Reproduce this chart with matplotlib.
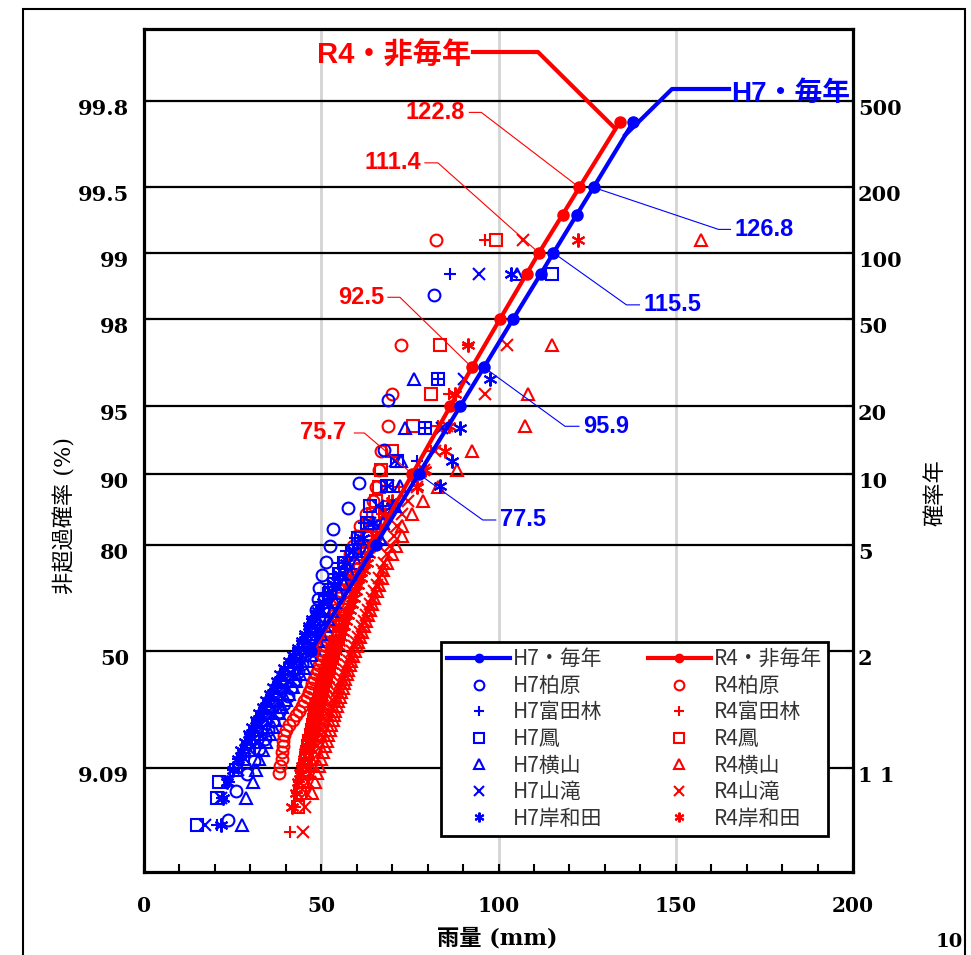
import numpy as np
import matplotlib
matplotlib.use("Agg")
import matplotlib.pyplot as plt
from matplotlib.lines import Line2D
from matplotlib.patches import Rectangle
from matplotlib.transforms import blended_transform_factory, offset_copy, IdentityTransform

plt.rcParams['font.family'] = ['DejaVu Sans', 'Noto Sans CJK JP']

# ---------------- data ----------------
prob_ticks = [9.09, 50, 80, 90, 95, 98, 99, 99.5, 99.8]          # non-exceedance (%)
prob_tick_labels = ['9.09', '50', '80', '90', '95', '98', '99', '99.5', '99.8']
period_tick_labels = ['1 1', '2', '5', '10', '20', '50', '100', '200', '500']
x_ticks = [0, 50, 100, 150, 200]

station_names = ['柏原', '富田林', '鳳', '横山', '山滝', '岸和田']

# fitted curves (return period -> rainfall)
line_T = [2, 5, 10, 20, 30, 50, 80, 100, 150, 200, 400]
h7_line = [47.0, 65.4, 77.5, 89.2, 95.9, 104.2, 111.9, 115.5, 122.1, 126.8, 138.0]
r4_line = [47.8, 64.6, 75.7, 86.4, 92.5, 100.5, 107.9, 111.4, 118.1, 122.8, 134.2]

# record lengths (for plotting positions of the sorted samples)
h7_years = [32, 40, 40, 40, 40, 40]
r4_years = [57, 57, 57, 57, 57, 57]

# H7 (annual maxima) sorted samples, mm
h7_kashiwara = [23.7, 26.0, 29.0, 31.0, 32.5, 34.0, 35.0, 36.5, 38.0, 39.5, 40.5, 41.5,
                42.5, 43.5, 44.5, 45.5, 46.3, 47.0, 47.5, 48.0, 48.5, 49.0, 49.3, 50.1,
                51.3, 52.4, 53.2, 57.5, 60.6, 67.6, 68.7, 81.7]
h7_tondabayashi = [20.5, 22.0, 24.0, 25.0, 26.5, 28.0, 29.0, 30.0, 31.0, 32.0, 33.0, 34.0,
                   35.0, 36.5, 37.5, 38.5, 39.5, 40.5, 41.5, 42.5, 43.5, 44.5, 45.5, 46.5,
                   47.5, 48.5, 49.5, 50.5, 52.0, 53.5, 55.0, 57.0, 59.5, 62.0, 67.3, 68.5,
                   76.9, 79.2, 82.8, 86.2]
h7_otori = [15.0, 20.6, 21.2, 26.0, 28.0, 29.5, 30.8, 32.0, 33.0, 34.0, 35.2, 36.0,
            37.2, 38.0, 39.0, 40.2, 41.0, 42.2, 43.0, 44.0, 45.2, 46.5, 47.0, 48.0,
            49.5, 50.5, 51.0, 52.5, 53.5, 55.0, 56.5, 59.4, 60.5, 63.0, 63.7, 68.5,
            71.5, 79.2, 82.8, 115.2]
h7_yokoyama = [27.6, 28.8, 30.7, 31.5, 32.5, 33.5, 34.5, 35.5, 36.5, 37.0, 38.0, 39.0,
               40.0, 41.0, 42.0, 43.0, 44.0, 45.0, 46.0, 47.0, 48.0, 49.0, 50.0, 51.0,
               52.0, 53.0, 54.0, 55.0, 56.5, 58.0, 60.0, 63.0, 66.5, 67.3, 70.7, 72.1,
               72.4, 73.5, 76.3, 105.1]
h7_yamataki = [17.2, 21.7, 23.4, 26.5, 28.5, 30.0, 31.5, 32.5, 33.5, 34.5, 35.5, 36.5,
               37.5, 38.5, 39.5, 40.5, 41.5, 42.5, 43.5, 44.5, 45.5, 46.5, 47.5, 48.5,
               49.5, 50.5, 52.0, 53.0, 54.5, 56.0, 57.5, 59.0, 61.0, 63.7, 66.0, 68.7,
               70.7, 84.0, 90.4, 94.4]
h7_kishiwada = [21.7, 22.3, 23.5, 25.0, 26.5, 27.5, 28.5, 29.5, 30.5, 31.5, 32.5, 33.5,
                34.5, 35.5, 36.5, 37.5, 38.5, 39.5, 41.0, 42.0, 43.5, 44.5, 45.5, 46.5,
                47.5, 49.0, 50.5, 52.0, 53.5, 55.0, 57.0, 59.0, 61.7, 64.5, 70.0, 83.4,
                86.8, 89.0, 97.5, 103.4]

# R4 (non-annual series) sorted samples, mm
r4_kashiwara = [38.0, 38.4, 38.8, 39.0, 39.2, 39.3, 39.5, 40.0, 41.0, 42.0, 43.0, 43.8,
                44.5, 45.2, 46.0, 46.5, 47.0, 47.5, 48.0, 48.5, 49.0, 49.5, 50.0, 50.4,
                50.8, 51.2, 51.6, 52.0, 52.4, 52.8, 53.2, 53.6, 54.0, 54.5, 55.0, 55.5,
                56.0, 56.5, 57.0, 57.6, 58.2, 59.0, 60.0, 61.0, 62.5, 64.5, 65.5, 66.2,
                66.8, 68.7, 69.9, 72.4, 82.3]
r4_tondabayashi = [41.1, 42.5, 43.2, 43.8, 44.2, 44.6, 45.0, 45.4, 45.8, 46.2, 46.6, 47.0,
                   47.4, 47.8, 48.2, 48.6, 49.0, 49.4, 49.8, 50.2, 50.6, 51.0, 51.4, 51.8,
                   52.2, 52.6, 53.0, 53.4, 53.8, 54.2, 54.6, 55.0, 55.4, 55.8, 56.2, 56.7,
                   57.2, 57.7, 58.2, 58.8, 59.4, 60.0, 60.8, 61.6, 62.4, 63.3, 64.3, 65.5,
                   67.0, 69.0, 72.0, 77.0, 81.1, 83.0, 86.0, 91.5, 96.3]
r4_otori = [43.4, 44.0, 44.5, 45.0, 45.3, 45.6, 46.0, 46.3, 46.6, 47.0, 47.3, 47.6,
            48.0, 48.3, 48.6, 49.0, 49.3, 49.6, 50.0, 50.3, 50.6, 51.0, 51.4, 51.8,
            52.2, 52.6, 53.0, 53.4, 53.8, 54.2, 54.6, 55.0, 55.4, 55.8, 56.2, 56.6,
            57.0, 57.5, 58.0, 58.6, 59.2, 60.0, 60.8, 61.5, 62.3, 63.0, 63.8, 64.5,
            65.4, 66.2, 66.8, 69.9, 76.0, 81.1, 83.4, 99.2]
r4_yokoyama = [47.5, 48.2, 48.8, 49.4, 50.0, 50.5, 51.0, 51.5, 52.0, 52.4, 52.8, 53.2,
               53.6, 54.0, 54.4, 54.8, 55.2, 55.6, 56.0, 56.4, 56.8, 57.2, 57.6, 58.0,
               58.5, 59.0, 59.5, 60.0, 60.5, 61.0, 61.5, 62.0, 62.6, 63.2, 63.8, 64.4,
               65.0, 65.6, 66.3, 67.0, 67.3, 68.5, 69.9, 71.0, 72.7, 72.9, 75.5, 78.6,
               83.0, 88.2, 92.4, 107.6, 108.2, 115.2, 157.2]
r4_yamataki = [44.8, 45.3, 45.8, 46.3, 46.8, 47.3, 47.8, 48.3, 48.8, 49.3, 49.8, 50.3,
               50.8, 51.3, 51.8, 52.3, 52.8, 53.3, 53.8, 54.3, 54.8, 55.3, 55.8, 56.3,
               56.8, 57.3, 57.8, 58.3, 58.8, 59.3, 59.8, 60.3, 60.8, 61.4, 62.0, 62.6,
               63.2, 63.8, 64.4, 65.0, 65.7, 66.4, 67.1, 67.8, 68.6, 69.5, 70.5, 71.5,
               72.8, 74.5, 77.0, 79.0, 82.0, 85.4, 96.3, 102.3, 107.0]
r4_kishiwada = [41.7, 42.8, 43.5, 44.0, 44.5, 45.0, 45.5, 46.0, 46.5, 47.0, 47.4, 47.8,
                48.2, 48.6, 49.0, 49.4, 49.8, 50.2, 50.6, 51.0, 51.4, 51.8, 52.2, 52.6,
                53.0, 53.4, 53.8, 54.2, 54.6, 55.0, 55.5, 56.0, 56.5, 57.0, 57.5, 58.0,
                58.6, 59.2, 59.8, 60.5, 61.2, 62.0, 62.8, 63.6, 64.5, 65.5, 66.6, 68.0,
                70.0, 77.0, 79.4, 84.8, 86.0, 87.6, 91.5, 122.3]

h7_samples = [h7_kashiwara, h7_tondabayashi, h7_otori, h7_yokoyama, h7_yamataki, h7_kishiwada]
r4_samples = [r4_kashiwara, r4_tondabayashi, r4_otori, r4_yokoyama, r4_yamataki, r4_kishiwada]

# ---------------- styles ----------------
BLUE = '#0000FF'
RED = '#FF0000'
station_markers = ['o', '+', 's', '^', 'x', (6, 2, 0)]
marker_sizes = [8.5, 9, 8, 8.5, 8.5, 10]

W, H = 971, 955
L, R, T, B = 144, 853, 29, 872


def gumbel_fwd(p):
    p = np.clip(np.asarray(p, dtype=float), 1e-12, 1 - 1e-12)
    return -np.log(-np.log(p))


def gumbel_inv(s):
    return np.exp(-np.exp(-np.asarray(s, dtype=float)))


def hazen(values, n_years):
    m = len(values)
    ranks = np.arange(n_years - m + 1, n_years + 1)
    return (ranks - 0.5) / n_years


fig = plt.figure(figsize=(W / 100, H / 100), dpi=100)
ax = fig.add_axes([L / W, 1 - B / H, (R - L) / W, (B - T) / H])
ax.set_yscale('function', functions=(gumbel_fwd, gumbel_inv))
ax.set_xlim(0, 200)
ax.set_ylim(gumbel_inv(-1.979), gumbel_inv(6.979))

# samples
for samples, years, col in ((r4_samples, r4_years, RED), (h7_samples, h7_years, BLUE)):
    for vals, n, mk, ms in zip(samples, years, station_markers, marker_sizes):
        ax.plot(vals, hazen(vals, n), linestyle='none', marker=mk, mfc='none',
                mec=col, ms=ms, mew=1.5, zorder=3)

# fitted curves
line_F = [1 - 1 / t for t in line_T]
ax.plot(r4_line, line_F, color=RED, lw=3, marker='o', ms=8, zorder=5)
ax.plot(h7_line, line_F, color=BLUE, lw=3, marker='o', ms=8, zorder=5)

# axes styling
tick_F = [p / 100 for p in prob_ticks]
ax.set_yticks(tick_F)
ax.set_yticklabels([])
ax.set_xticks(x_ticks)
ax.set_xticks(np.arange(0, 201, 10), minor=True)
ax.set_xticklabels([str(v) for v in x_ticks], fontfamily='DejaVu Serif',
                   fontweight='bold', fontsize=14.5)
ax.tick_params(axis='x', which='both', direction='in', length=6, width=1.5, pad=17)
ax.tick_params(axis='y', which='both', direction='in', length=5, width=1.5)
ax.yaxis.grid(True, color='black', lw=1.6, zorder=1)
ax.xaxis.grid(True, color='#d4d4d4', lw=2, zorder=0)
ax.set_axisbelow(True)
for sp in ax.spines.values():
    sp.set_linewidth(2.3)
    sp.set_zorder(6)

ax2 = ax.twinx()
ax2.set_yscale('function', functions=(gumbel_fwd, gumbel_inv))
ax2.set_ylim(ax.get_ylim())
ax2.set_yticks(tick_F)
ax2.set_yticklabels([])
ax2.tick_params(axis='y', direction='in', length=5, width=1.5)
for sp in ax2.spines.values():
    sp.set_visible(False)

# probability / return-period labels
tl = blended_transform_factory(ax.transAxes, ax.transData)
tl_left = offset_copy(tl, fig=fig, x=-15, y=-8, units='dots')
tl_right = offset_copy(tl, fig=fig, x=5, y=-8, units='dots')
for f, lab, rlab in zip(tick_F, prob_tick_labels, period_tick_labels):
    ax.text(0, f, lab, transform=tl_left, ha='right', va='center',
            fontfamily='DejaVu Serif', fontweight='bold', fontsize=15)
    ax.text(1, f, rlab, transform=tl_right, ha='left', va='center',
            fontfamily='DejaVu Serif', fontweight='bold', fontsize=15)

# axis titles
fig.text(497 / W, 1 - 938 / H, '雨量 (mm)', ha='center', va='center',
         fontsize=16, fontfamily=['DejaVu Serif', 'Noto Sans CJK JP'], fontweight='bold')
fig.text(65 / W, 1 - 515 / H, '非超過確率 (%)', ha='center', va='center', rotation=90,
         fontsize=16, fontfamily=['DejaVu Serif', 'Noto Sans CJK JP'])
fig.text(935 / W, 1 - 493 / H, '確率年', ha='center', va='center', rotation=90,
         fontsize=16, fontfamily=['Noto Sans CJK JP'])

# outer frame and page number
fig.add_artist(Rectangle((23 / W, -0.05), (965 - 23) / W, 1.05 - 9 / H,
                         transform=fig.transFigure, fill=False, lw=1.5, ec='black'))
fig.text(936 / W, 1 - 942 / H, '10', ha='left', va='center', fontsize=14,
         fontfamily='DejaVu Serif', fontweight='bold')

# value call-outs
fig.canvas.draw()


def to_px(val, F):
    x, y = ax.transData.transform((val, F))
    return x, y


def callout(val, T_ret, dx, dy, hlen, text, color, lw=0.8, fs=17, gap=4):
    F = 1 - 1 / T_ret
    px, py = to_px(val, F)
    cx, cy = px + dx, py - dy
    ex = cx + hlen
    ax.add_line(Line2D([px, cx, ex], [py, cy, cy], transform=IdentityTransform(),
                       color=color, lw=lw, zorder=7, clip_on=False))
    ha = 'left' if hlen > 0 else 'right'
    tx = ex + (gap if hlen > 0 else -gap)
    fig.text(tx / W, cy / H, text, ha=ha, va='center', color=color, fontsize=fs,
             fontfamily='Liberation Sans', fontweight='bold')


callout(r4_line[9], 200, -98, -75, -12, '122.8', RED)
callout(r4_line[7], 100, -101, -90, -13, '111.4', RED)
callout(r4_line[4], 30, -72, -70, -12, '92.5', RED)
callout(r4_line[2], 10, -48, -41, -10, '75.7', RED, gap=8)
callout(h7_line[9], 200, 125, 42, 12, '126.8', BLUE)
callout(h7_line[7], 100, 73, 52, 13, '115.5', BLUE)
callout(h7_line[4], 30, 81, 59, 14, '95.9', BLUE)
callout(h7_line[2], 10, 64, 46, 13, '77.5', BLUE)


def big_leader(val, T_ret, start_off, corner, end, color):
    px, py = to_px(val, 1 - 1 / T_ret)
    sx, sy = px + start_off[0], py - start_off[1]
    cx, cy = corner
    ax.add_line(Line2D([sx, cx, end], [sy, H - cy, H - cy], transform=IdentityTransform(),
                       color=color, lw=3, zorder=7, clip_on=False))


big_leader(r4_line[-1], 400, (-6, 5), (538, 52), 473, RED)
fig.text(471 / W, 1 - 56 / H, 'R4・非毎年', ha='right', va='center', color=RED,
         fontsize=21, fontweight='bold', fontfamily=['Liberation Sans', 'Noto Sans CJK JP'])
big_leader(h7_line[-1], 400, (-8, 13), (672, 89), 729, BLUE)
fig.text(731 / W, 1 - 94 / H, 'H7・毎年', ha='left', va='center', color=BLUE,
         fontsize=20, fontweight='bold', fontfamily=['Liberation Sans', 'Noto Sans CJK JP'])

# legend
handles = [Line2D([], [], color=BLUE, lw=3, marker='o', ms=6)]
labels = ['H7・毎年']
for nm, mk in zip(station_names, station_markers):
    handles.append(Line2D([], [], ls='none', marker=mk, mfc='none', mec=BLUE, ms=7, mew=1.5))
    labels.append('H7' + nm)
handles.append(Line2D([], [], color=RED, lw=3, marker='o', ms=6))
labels.append('R4・非毎年')
for nm, mk in zip(station_names, station_markers):
    handles.append(Line2D([], [], ls='none', marker=mk, mfc='none', mec=RED, ms=7, mew=1.5))
    labels.append('R4' + nm)

leg = ax.legend(handles, labels, ncol=2, loc='upper left',
                bbox_to_anchor=((441 - L) / (R - L), 1 - (642 - T) / (B - T)),
                borderaxespad=0, frameon=True, fancybox=False, framealpha=1,
                edgecolor='black', handlelength=3.0, handletextpad=0.15,
                columnspacing=2.2, labelspacing=0.22, borderpad=0.3,
                prop={'family': ['Noto Sans CJK JP'], 'size': 15})
leg.get_frame().set_linewidth(2)
leg.set_zorder(8)
for t in leg.get_texts():
    t.set_color('#333333')

fig.savefig('out.png', dpi=100)
